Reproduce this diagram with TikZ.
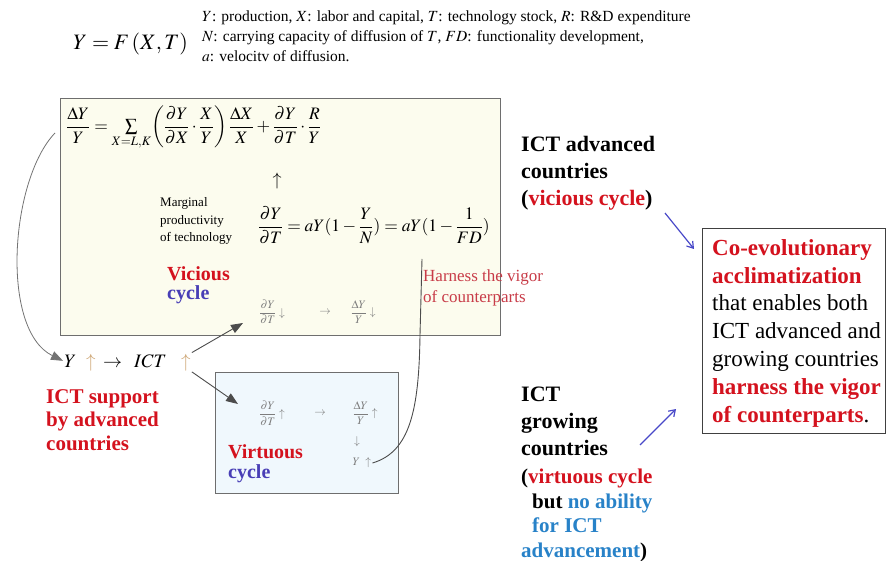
\documentclass[tikz,border=0pt]{standalone}
\usepackage{amsmath}
\usepackage{mathptmx}
\usepackage{fontspec}
\setmainfont{Liberation Serif}
\usetikzlibrary{arrows.meta}

\definecolor{vicfill}{RGB}{252,252,238}
\definecolor{virfill}{RGB}{240,248,253}
\definecolor{boxgray}{RGB}{110,110,110}
\definecolor{redbold}{RGB}{212,18,30}
\definecolor{cyclblue}{RGB}{72,62,182}
\definecolor{harnred}{RGB}{200,60,72}
\definecolor{abilblue}{RGB}{40,130,200}
\definecolor{arrblue}{RGB}{72,72,200}
\definecolor{uptan}{RGB}{205,165,115}
\definecolor{smallgray}{RGB}{125,125,125}

\tikzset{
  cyclebox/.style={draw=boxgray, line width=1.3pt, anchor=north west, inner sep=0pt},
  boldlbl/.style={anchor=base west, align=left, inner sep=0pt, font=\fontsize{22}{27}\selectfont\bfseries},
  cyclelbl/.style={anchor=base west, inner sep=0pt, font=\fontsize{20}{20}\selectfont\bfseries},
  smallfrac/.style={text=smallgray, inner sep=1pt, font=\fontsize{11.5}{12}\selectfont},
  linkarrow/.style={draw=black!70, line width=0.9pt, -{Triangle[length=12pt,width=9pt]}},
  bluearrow/.style={draw=arrblue, line width=1.2pt, -{Straight Barb[length=6pt,width=8pt]}}
}

\begin{document}
\begin{tikzpicture}[x=1pt, y=-1pt]
\useasboundingbox (0,0) rectangle (886,561);

% header (multi-line nodes sit on the baseline of their last line)
\node[anchor=base west, inner sep=0pt, font=\fontsize{22}{26}\selectfont] (prodfn) at (73,50) {$Y = F\,(X, T)$};
\node[anchor=base west, align=left, inner sep=0pt, font=\fontsize{15.5}{20}\selectfont] (legend) at (202,62)
  {$Y$: production, $X$: labor and capital, $T$: technology stock, $R$: R\&D expenditure\\
   $N$: carrying capacity of diffusion of $T$, $FD$: functionality development,\\
   $a$: velocitv of diffusion.};

% cycle boxes
\node[cyclebox, fill=vicfill, minimum width=440pt, minimum height=237pt] (vicbox) at (60,98) {};
\node[cyclebox, fill=virfill, minimum width=183pt, minimum height=121pt] (virbox) at (215,372) {};

% growth accounting
\node[anchor=west, inner sep=0pt, font=\fontsize{17.5}{20}\selectfont] (topeq) at (66,128)
  {$\dfrac{\Delta Y}{Y} = \sum\limits_{X=L,K}\!\left(\dfrac{\partial Y}{\partial X}\cdot\dfrac{X}{Y}\right)\dfrac{\Delta X}{X} + \dfrac{\partial Y}{\partial T}\cdot\dfrac{R}{Y}$};
\node[font=\fontsize{18}{20}\selectfont] (upmark) at (277,181) {$\uparrow$};
\node[anchor=base west, align=left, inner sep=0pt, font=\fontsize{13}{17.5}\selectfont] (marginal) at (160,242)
  {Marginal\\productivity\\of technology};
\node[anchor=west, inner sep=0pt, font=\fontsize{17.5}{20}\selectfont] (mpeq) at (258,225)
  {$\dfrac{\partial Y}{\partial T} = aY(1-\dfrac{Y}{N}) = aY(1-\dfrac{1}{FD})$};

% vicious cycle
\node[cyclelbl, text=redbold] (vicword) at (167,281) {Vicious};
\node[cyclelbl, text=cyclblue] (viccycle) at (167,300) {cycle};
\node[smallfrac] (vdy) at (272,312) {$\dfrac{\partial Y}{\partial T}\downarrow$};
\node[smallfrac] (varr) at (325,312) {$\rightarrow$};
\node[smallfrac] (vdY) at (363,312) {$\dfrac{\Delta Y}{Y}\downarrow$};

\node[anchor=base west, align=left, inner sep=0pt, text=harnred, font=\fontsize{17}{21}\selectfont] (harness) at (423,303)
  {Harness the vigor\\of counterparts};

% support chain
\node[anchor=base west, inner sep=1pt, font=\fontsize{19}{20}\selectfont] (ysym) at (63,367) {$Y$};
\node[anchor=base west, inner sep=1pt, text=uptan, font=\fontsize{19}{20}\selectfont] (yup) at (85,367) {$\uparrow$};
\node[anchor=base west, inner sep=1pt, font=\fontsize{19}{20}\selectfont] (rarr) at (102,367) {$\rightarrow$};
\node[anchor=base west, inner sep=1pt, font=\fontsize{19}{20}\selectfont] (ict) at (133,367) {$ICT$};
\node[anchor=base west, inner sep=1pt, text=uptan, font=\fontsize{19}{20}\selectfont] (ictup) at (180,367) {$\uparrow$};
\node[anchor=base west, align=left, inner sep=0pt, text=redbold, font=\fontsize{21}{23.5}\selectfont\bfseries] (support) at (46,450)
  {ICT support\\by advanced\\countries};

% virtuous cycle
\node[smallfrac] (gdy) at (272,413) {$\dfrac{\partial Y}{\partial T}\uparrow$};
\node[smallfrac] (garr) at (320,413) {$\rightarrow$};
\node[smallfrac] (gdY) at (365,413) {$\dfrac{\Delta Y}{Y}\uparrow$};
\node[smallfrac] (gdown) at (357,442) {$\downarrow$};
\node[smallfrac] (gYup) at (362,463) {$Y\ \uparrow$};
\node[cyclelbl, text=redbold] (virword) at (228,458) {Virtuous};
\node[cyclelbl, text=cyclblue] (vircycle) at (228,478) {cycle};

% countries
\node[boldlbl] (advanced) at (521,206)
  {ICT advanced\\countries\\(\textcolor{redbold}{vicious cycle})};
\node[boldlbl] (growing) at (521,455)
  {ICT\\growing\\countries};
\node[boldlbl, font=\fontsize{21}{24.5}\selectfont\bfseries] (growingnote) at (521,557)
  {(\textcolor{redbold}{virtuous cycle}\\
   \hspace*{11pt}but \textcolor{abilblue}{no ability}\\
   \hspace*{11pt}\textcolor{abilblue}{for ICT}\\
   \textcolor{abilblue}{advancement})};

% co-evolution
\node[cyclebox, draw=black!75, fill=white, minimum width=183pt, minimum height=205pt] (coevo) at (702,228) {};
\node[anchor=base west, align=left, inner sep=0pt, font=\fontsize{23}{27.8}\selectfont] (coevotext) at (712,422)
  {\textcolor{redbold}{\bfseries Co-evolutionary}\\
   \textcolor{redbold}{\bfseries acclimatization}\\
   that enables both\\
   ICT advanced and\\
   growing countries\\
   \textcolor{redbold}{\bfseries harness the vigor}\\
   \textcolor{redbold}{\bfseries of counterparts}.};

% connectors
\coordinate (vtip) at (243,323);
\coordinate (gtip) at (238,404);
\coordinate (harnesstop) at (422,259);
\coordinate (advtail) at (665,213);
\coordinate (advtip) at (694,249);
\coordinate (grotail) at (640,445);
\coordinate (grotip) at (676,409);
\draw[linkarrow, draw=black!55, line width=0.8pt] ([xshift=-11pt,yshift=-5pt]topeq.west) .. controls (10,180) and (0,330) .. (ysym.west);
\draw[linkarrow] (ictup.north east) -- (vtip);
\draw[linkarrow] (ictup.south east) -- (gtip);
\draw[draw=black!70, line width=0.9pt] (gYup.east) .. controls (410,452) and (419,410) .. (420,335) -- (harnesstop);
\draw[bluearrow] (advtail) -- (advtip);
\draw[bluearrow] (grotail) -- (grotip);
\end{tikzpicture}
\end{document}
